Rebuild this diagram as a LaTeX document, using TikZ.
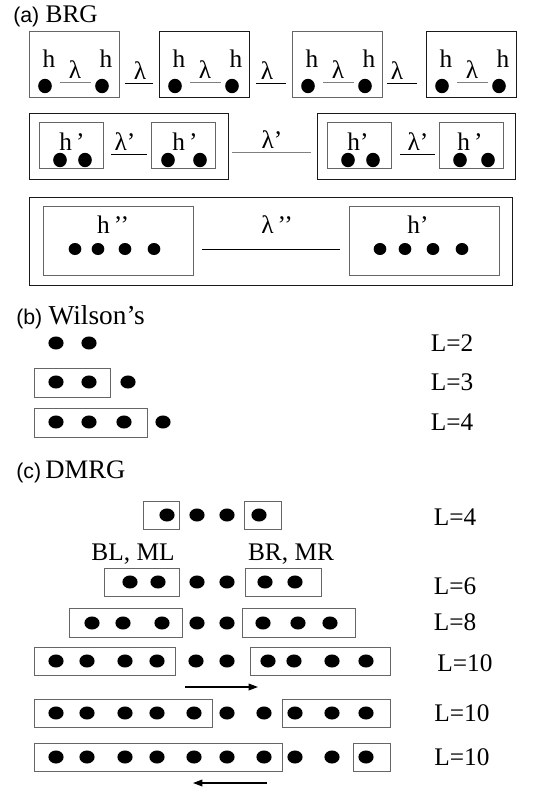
\documentclass[tikz,border=0pt]{standalone}
\usepackage{fontspec}
\setmainfont{Liberation Serif}
\newfontfamily\sanf{Liberation Sans}
\usetikzlibrary{shapes.geometric,arrows.meta}
\newcommand\fsz[1]{\fontsize{#1}{#1}\selectfont}
\begin{document}
\begin{tikzpicture}[x=0.75pt,y=-0.75pt,
  sdot/.style={ellipse,fill=black,inner sep=0pt,minimum width=10.2pt,minimum height=10.8pt},
  tdot/.style={ellipse,fill=black,inner sep=0pt,minimum width=9.5pt,minimum height=9pt},
  bdot/.style={ellipse,fill=black,inner sep=0pt,minimum width=11.4pt,minimum height=9.8pt},
  gbox/.style={draw=black!60,line width=0.75pt},
  kbox/.style={draw=black!90,line width=0.75pt},
  lbl/.style={inner sep=0pt,anchor=base,font=\fsz{19}},
  llbl/.style={inner sep=0pt,font=\fsz{19}},
  head/.style={inner sep=0pt,anchor=west,font=\fsz{19}},
  kline/.style={draw=black,line width=0.75pt},
  gline/.style={draw=black!50,line width=0.75pt},
  arr/.style={draw=black,line width=1pt,-{Triangle[length=7pt,width=5pt]}}
]
\useasboundingbox (0,0) rectangle (532,789);
\fill[white] (0,0) rectangle (532,789);

% ---------------- (a) BRG ----------------
\node[head] (ta) at (13,16) {{\sanf\fsz{16}(a)} {\fsz{19}BRG}};

% row 1
\foreach \bx/\bs [count=\i] in {29/gbox,159/kbox,292/gbox,426/kbox}{
  \draw[\bs] (\bx,31) rectangle ++(90,66);
  \node[sdot] (r1a\i) at (\bx+16,86) {};
  \node[sdot] (r1b\i) at (\bx+73,86) {};
  \node[lbl] (r1h\i) at (\bx+20,67) {h};
  \node[lbl] (r1k\i) at (\bx+77,67) {h};
  \node[lbl] (r1l\i) at (\bx+46,78) {λ};
  \coordinate (r1s\i) at (\bx+31,82);
  \coordinate (r1e\i) at (\bx+62,82);
  \draw[gline] (r1s\i) -- (r1e\i);
}
\foreach \lx/\ls/\le [count=\i] in {140/125/153,267/256/286,397/387/417}{
  \node[lbl] (r1m\i) at (\lx,79) {λ};
  \coordinate (r1ms\i) at (\ls,83);
  \coordinate (r1me\i) at (\le,83);
  \draw[kline] (r1ms\i) -- (r1me\i);
}

% row 2
\draw[kbox] (29,113) rectangle (228,179);
\draw[kbox] (317,113) rectangle (515,179);
\foreach \bx [count=\i] in {39,151,327,439}{
  \draw[gbox] (\bx,122) rectangle ++(64,46);
}
\foreach \x [count=\i] in {60,85,168,200,348,373,460,488}{
  \node[sdot] (r2d\i) at (\x,160) {};
}
\node[lbl] (r2h1) at (72,150) {h\,’};
\node[lbl] (r2h2) at (185,150) {h\,’};
\node[lbl] (r2h3) at (358,150) {h’};
\node[lbl] (r2h4) at (470,150) {h\,’};
\node[lbl] (r2l1) at (125,150) {λ’};
\node[lbl] (r2l2) at (272,148) {λ’};
\node[lbl] (r2l3) at (418,150) {λ’};
\coordinate (r2a1) at (111,154); \coordinate (r2b1) at (147,154);
\coordinate (r2a2) at (232,152); \coordinate (r2b2) at (311,152);
\coordinate (r2a3) at (400,154); \coordinate (r2b3) at (435,154);
\draw[kline] (r2a1) -- (r2b1);
\draw[gline] (r2a2) -- (r2b2);
\draw[kline] (r2a3) -- (r2b3);

% row 3
\draw[kbox] (29,197) rectangle (512,285);
\draw[gbox] (43,206) rectangle (193,275);
\draw[gbox] (349,206) rectangle (499,275);
\foreach \x [count=\i] in {75,98,125,154,380,405,433,462}{
  \node[tdot] (r3d\i) at (\x,249) {};
}
\node[lbl] (r3h1) at (113,233) {h\,’’};
\node[lbl] (r3l) at (277,233) {λ\,’’};
\node[lbl] (r3h2) at (418,233) {h’};
\coordinate (r3a) at (202,249); \coordinate (r3b) at (340,249);
\draw[kline] (r3a) -- (r3b);

% ---------------- (b) Wilson's ----------------
\node[head] (tb) at (16,317) {{\sanf\fsz{16}(b)} {\fsz{20.5}Wilson’s}};

\node[bdot] (w2a) at (56,343) {};
\node[bdot] (w2b) at (89,343) {};
\node[llbl] (w2t) at (452,343) {L=2};

\draw[gbox] (34,368) rectangle (110,397);
\foreach \x [count=\i] in {56,89,128}{ \node[bdot] (w3d\i) at (\x,382) {}; }
\node[llbl] (w3t) at (452,382) {L=3};

\draw[gbox] (34,408) rectangle (147,437);
\foreach \x [count=\i] in {56,89,124,163}{ \node[bdot] (w4d\i) at (\x,422) {}; }
\node[llbl] (w4t) at (452,422) {L=4};

% ---------------- (c) DMRG ----------------
\node[head] (tc) at (16,472) {{\sanf\fsz{16}(c)}\,{\fsz{20}DMRG}};

% L=4
\draw[gbox] (143,501) rectangle (179,529);
\draw[gbox] (244,501) rectangle (281,529);
\foreach \x [count=\i] in {167,197,227,259}{ \node[bdot] (c4d\i) at (\x,515) {}; }
\node[llbl] (c4t) at (455,517) {L=4};

\node[llbl] (bl) at (133,554) {BL, ML};
\node[llbl] (br) at (291,554) {BR, MR};

% L=6
\draw[gbox] (104,568) rectangle (179,596);
\draw[gbox] (245,568) rectangle (321,596);
\foreach \x [count=\i] in {130,158,197,227,265,295}{ \node[bdot] (c6d\i) at (\x,582) {}; }
\node[llbl] (c6t) at (455,586) {L=6};

% L=8
\draw[gbox] (69,608) rectangle (182,637);
\draw[gbox] (242,608) rectangle (355,637);
\foreach \x [count=\i] in {92,123,162,197,227,263,298,330}{ \node[bdot] (c8d\i) at (\x,623) {}; }
\node[llbl] (c8t) at (455,622) {L=8};

% L=10 (a)
\draw[gbox] (34,647) rectangle (175,675);
\draw[gbox] (250,647) rectangle (390,675);
\foreach \x [count=\i] in {56,87,125,157,196,227,268,294,332,366}{ \node[bdot] (cad\i) at (\x,661) {}; }
\node[llbl] (cat) at (465,663) {L=10};
\coordinate (ar1s) at (185,687); \coordinate (ar1e) at (258,687);
\draw[arr] (ar1s) -- (ar1e);

% L=10 (b)
\draw[gbox] (34,699) rectangle (212,727);
\draw[gbox] (282,699) rectangle (390,727);
\foreach \x [count=\i] in {56,87,125,157,194,227,264,295,332,366}{ \node[bdot] (cbd\i) at (\x,713) {}; }
\node[llbl] (cbt) at (462,713) {L=10};

% L=10 (c)
\draw[gbox] (34,743) rectangle (282,771);
\draw[gbox] (353,743) rectangle (390,771);
\foreach \x [count=\i] in {56,87,125,157,194,227,264,295,332,366}{ \node[bdot] (ccd\i) at (\x,757) {}; }
\node[llbl] (cct) at (462,757) {L=10};
\coordinate (ar2s) at (267,783); \coordinate (ar2e) at (193,783);
\draw[arr] (ar2s) -- (ar2e);
\end{tikzpicture}
\end{document}
